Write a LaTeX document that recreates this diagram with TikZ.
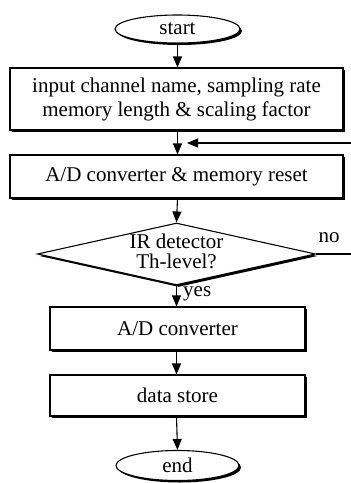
\documentclass[tikz,border=0pt]{standalone}
\usepackage{fontspec}
\setmainfont{Liberation Serif}
\usetikzlibrary{shapes.geometric,shadows,arrows.meta}
\begin{document}
\begin{tikzpicture}[x=1pt,y=-1pt,
  base/.style={draw, line width=1.1pt, fill=white, inner sep=0pt, align=center,
    font=\fontsize{21}{24}\selectfont,
    drop shadow={shadow xshift=2pt, shadow yshift=-2pt, opacity=1, fill=black}},
  procbox/.style={base, rectangle},
  term/.style={base, ellipse},
  decide/.style={base, diamond, aspect=4.5},
  arr/.style={line width=1.1pt, -{Triangle[length=11pt,width=9pt]}},
  lbl/.style={font=\fontsize{21}{20}\selectfont, inner sep=0pt, align=center}]
\useasboundingbox (0,0) rectangle (351,483);
\node[term, minimum width=125pt, minimum height=28pt] (start) at (177.5,29) {start};
\node[procbox, minimum width=333pt, minimum height=62pt] (input) at (176.5,99)
  {input channel name, sampling rate\\memory length \& scaling factor};
\node[procbox, minimum width=333pt, minimum height=43pt] (reset) at (176.5,176.5)
  {A/D converter \& memory reset};
\node[decide, minimum width=278pt, minimum height=62pt] (ir) at (176.5,254) {};
\node[lbl] (irtext) at (176.5,251) {IR detector\\Th-level?};
\node[procbox, minimum width=255pt, minimum height=43pt] (ad) at (177.5,328.5)
  {A/D converter};
\node[procbox, minimum width=255pt, minimum height=41pt] (store) at (177.5,395.5)
  {data store};
\node[term, minimum width=123pt, minimum height=30pt] (end) at (177.5,465.5) {end};

\coordinate (looptip) at (187,143);
\coordinate (rtop) at (356,143);
\coordinate (rbot) at (356,254);

\draw[arr] (start.south) -- (start.south |- input.north);
\draw[arr] (input.south -| start.south) -- (reset.north -| start.south);
\draw[arr] (reset.south -| start.south) -- (ir.north);
\draw[arr] (ir.south) -- (ad.north -| ir.south);
\draw[arr] (ad.south -| ir.south) -- (store.north -| ir.south);
\draw[arr] (store.south -| ir.south) -- (end.north);
\draw[line width=1.1pt] (ir.east) -- (rbot);
\draw[arr] (rbot) -- (rtop) -- (looptip);

\node[lbl] (no) at (329,238) {no};
\node[lbl, anchor=west] (yes) at (183,294) {yes};
\end{tikzpicture}
\end{document}
